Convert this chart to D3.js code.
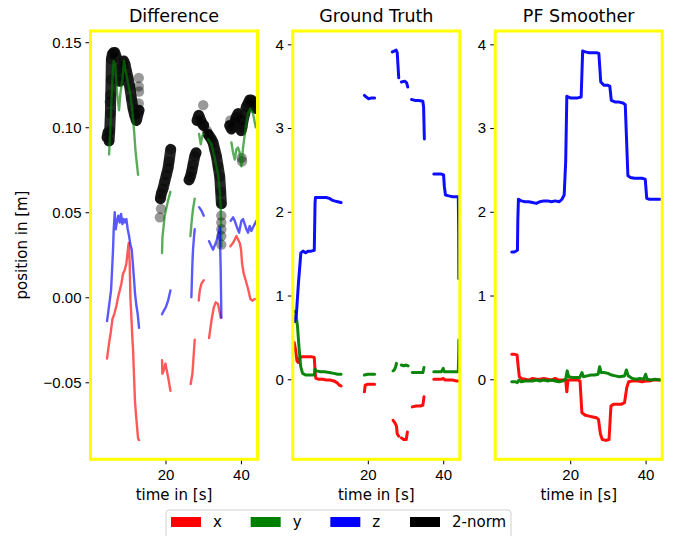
<!DOCTYPE html>
<html>
<head>
<meta charset="utf-8">
<script src="https://cdn.jsdelivr.net/npm/d3@7"></script>
<style>
body { margin: 0; background: #fff; }
svg { font-family: "DejaVu Sans", sans-serif; }
.tick text { font-size: 15px; fill: #000; }
.tick line { stroke: #000; }
</style>
</head>
<body>
<svg id="chart" width="677" height="536"></svg>
<script>
// ---- data: [time in s, position in m], null = gap ----

// Difference panel
var diffX = [[4.49,-0.036],[5.02,-0.027],[5.46,-0.021],[5.91,-0.013],[6.53,-0.009],[6.97,-0.005],[7.41,0.000],[7.85,0.004],[8.29,0.008],[8.74,0.014],[9.18,0.016],[9.62,0.020],[10.06,0.029],[10.24,0.032],[10.50,0.020],[10.68,0.000],[10.95,-0.012],[11.21,-0.024],[11.39,-0.031],[11.66,-0.047],[11.92,-0.062],[12.28,-0.072],[12.72,-0.083],[12.98,-0.084], null,
    [19.08,-0.037],[19.17,-0.045],[19.52,-0.043],[19.97,-0.039],[20.41,-0.044],[20.85,-0.049],[21.30,-0.055], null,
    [26.68,-0.051],[27.13,-0.045],[27.75,-0.025], null,
    [28.81,-0.002],[29.08,0.004],[29.52,0.008],[30.14,0.010], null,
    [31.55,-0.024],[32.17,-0.014],[32.79,-0.006],[33.32,-0.003],[33.94,-0.004],[34.38,-0.009],[34.64,-0.012], null,
    [37.21,0.030],[37.92,0.032],[38.36,0.034],[38.80,0.036],[39.24,0.034],[39.68,0.032],[40.04,0.028],[40.30,0.020],[40.74,0.014],[41.27,0.010],[41.89,0.005],[42.51,-0.001],[43.04,-0.002],[43.66,-0.001]];

var diffY = [[5.02,0.084],[5.38,0.100],[5.91,0.128],[6.26,0.139],[6.70,0.136],[7.15,0.120],[7.68,0.110],[8.03,0.120],[8.56,0.128],[9.00,0.139],[9.44,0.133],[10.06,0.126],[10.68,0.119],[11.21,0.109],[11.66,0.098],[12.01,0.087],[12.28,0.081],[12.72,0.072], null,
    [19.08,0.026],[19.17,0.035],[19.79,0.048],[20.68,0.057],[21.30,0.062], null,
    [26.60,0.036],[26.95,0.045],[27.30,0.052],[27.75,0.058], null,
    [28.90,0.096],[29.34,0.090],[29.78,0.095],[30.14,0.096], null,
    [31.28,0.093],[32.17,0.090],[33.05,0.082],[33.94,0.072],[34.38,0.063],[34.64,0.053],[34.82,0.030], null,
    [37.47,0.091],[37.92,0.085],[38.36,0.081],[38.80,0.087],[39.24,0.088],[39.68,0.085],[40.13,0.077],[40.57,0.088],[41.27,0.100],[41.89,0.108],[42.51,0.111],[43.21,0.108],[43.92,0.100]];

var diffZ = [[4.49,-0.014],[4.85,-0.008],[5.20,-0.002],[5.55,0.004],[5.82,0.016],[6.08,0.028],[6.26,0.040],[6.53,0.050],[6.79,0.040],[7.15,0.045],[7.50,0.048],[7.85,0.044],[8.21,0.049],[8.56,0.043],[8.91,0.046],[9.27,0.044],[9.62,0.046],[9.97,0.040],[10.33,0.036],[10.68,0.031],[11.03,0.028],[11.39,0.018],[11.66,0.010],[11.92,0.002],[12.28,-0.005],[12.63,-0.010],[12.98,-0.018], null,
    [19.08,-0.010],[19.52,-0.008],[20.06,-0.006],[20.68,-0.002],[21.30,0.004], null,
    [26.86,0.000],[27.13,0.020],[27.30,0.028],[27.57,0.036],[27.75,0.040], null,
    [28.90,0.053],[29.52,0.051],[30.14,0.048], null,
    [31.55,0.033],[32.61,0.028],[33.50,0.033],[33.94,0.036],[34.38,0.041],[34.64,0.016],[34.82,-0.012], null,
    [37.30,0.045],[37.92,0.047],[38.36,0.045],[38.98,0.041],[39.51,0.038],[40.13,0.045],[40.57,0.046],[41.01,0.043],[41.45,0.040],[41.89,0.038],[42.33,0.042],[42.77,0.039],[43.21,0.041],[43.66,0.043],[44.10,0.045]];

var diffNorm = [[4.49,0.094],[4.76,0.097],[5.02,0.092],[5.20,0.098],[5.38,0.108],[5.55,0.128],[5.64,0.140],[5.91,0.143],[6.26,0.144],[6.53,0.144],[6.97,0.141],[7.41,0.134],[7.85,0.127],[8.21,0.130],[8.56,0.136],[8.91,0.139],[9.27,0.137],[9.62,0.133],[10.06,0.129],[10.50,0.124],[10.95,0.117],[11.39,0.111],[11.83,0.107],[12.28,0.104],[12.72,0.108],[12.98,0.110], null,
    [18.64,0.058],[18.90,0.061],[19.35,0.064],[19.79,0.068],[20.23,0.072],[20.68,0.076],[20.94,0.080],[21.38,0.087], null,
    [26.24,0.069],[26.60,0.071],[26.95,0.074],[27.30,0.078],[27.75,0.083],[28.10,0.085], null,
    [28.37,0.104],[28.81,0.107],[29.34,0.104],[29.78,0.102],[30.14,0.101], null,
    [31.28,0.096],[31.55,0.095],[32.17,0.093],[32.61,0.091],[33.05,0.087],[33.50,0.083],[33.94,0.077],[34.38,0.071],[34.64,0.062],[34.82,0.055], null,
    [37.03,0.101],[37.47,0.099],[37.92,0.100],[38.36,0.103],[38.80,0.106],[39.24,0.108],[39.68,0.104],[40.04,0.098],[40.30,0.100],[40.57,0.104],[41.01,0.108],[41.45,0.112],[41.89,0.114],[42.33,0.116],[42.77,0.116],[43.21,0.115],[43.66,0.113],[44.10,0.111]];

var diffNormStray = [[5.3,0.119],[5.2,0.115],[12.9,0.129],[12.9,0.124],[12.98,0.121],[12.9,0.114],[18.5,0.047],[18.8,0.052],[30.0,0.113],[31.0,0.098],[34.8,0.048],[34.8,0.044],[34.8,0.040],[34.8,0.036],[34.8,0.031],[37.2,0.104],[40.2,0.082],[40.3,0.080]];

// Ground Truth panel
var gtX = [[0.45,0.44],[0.8,0.36],[1.2,0.22],[1.5,0.20],[1.9,0.25],[2.4,0.27],[3.0,0.27],[4.0,0.27],[5.0,0.27],[5.8,0.26],[6.0,0.10],[6.2,0.01],[7.0,0.0],[8.0,0.0],[9.0,-0.01],[10.0,-0.01],[11.0,-0.02],[11.8,-0.04],[12.4,-0.07],[12.9,-0.08], null,
    [19.1,-0.15],[19.3,-0.07],[20.0,-0.06],[21.0,-0.06],[21.8,-0.06], null,
    [26.7,-0.49],[27.2,-0.52],[27.6,-0.56],[27.8,-0.65],[28.2,-0.68], null,
    [28.9,-0.70],[29.5,-0.72],[30.2,-0.72],[30.5,-0.63], null,
    [31.8,-0.33],[32.8,-0.32],[33.8,-0.32],[34.6,-0.31],[34.9,-0.21], null,
    [37.5,0.0],[38.5,0.0],[39.5,0.0],[40.0,0.01],[40.5,-0.01],[41.5,-0.01],[42.5,-0.01],[43.5,-0.02],[44.0,-0.02]];

var gtY = [[0.45,0.81],[0.9,0.80],[1.35,0.63],[1.8,0.35],[2.2,0.15],[2.7,0.07],[3.5,0.05],[4.5,0.05],[5.8,0.05],[6.0,0.12],[6.3,0.10],[7.5,0.09],[8.5,0.09],[9.8,0.08],[11.0,0.07],[12.0,0.06],[12.9,0.06], null,
    [19.1,0.05],[20.0,0.06],[21.0,0.06],[21.8,0.06], null,
    [26.7,0.10],[27.0,0.11],[27.4,0.15],[27.6,0.19], null,
    [28.9,0.17],[29.5,0.16],[30.0,0.17],[30.7,0.16], null,
    [31.8,0.08],[32.8,0.08],[33.8,0.08],[34.6,0.08],[34.9,0.14], null,
    [37.5,0.09],[38.5,0.09],[39.5,0.09],[40.0,0.13],[40.3,0.09],[41.5,0.09],[42.5,0.09],[43.5,0.09],[44.0,0.09],[44.1,0.30],[44.15,0.47]];

var gtZ = [[0.64,0.69],[1.07,0.79],[1.6,1.15],[2.24,1.51],[2.8,1.53],[3.5,1.51],[4.2,1.53],[5.0,1.53],[5.8,1.54],[6.0,2.10],[6.1,2.17],[7.0,2.17],[8.0,2.17],[9.0,2.17],[9.8,2.16],[10.5,2.14],[11.1,2.13],[12.0,2.12],[12.9,2.11], null,
    [19.1,3.39],[19.6,3.37],[20.2,3.35],[21.0,3.36],[21.8,3.36], null,
    [26.5,3.91],[27.0,3.92],[27.5,3.93],[27.8,3.90],[28.0,3.75],[28.2,3.60], null,
    [28.9,3.55],[29.8,3.56],[30.3,3.54],[30.6,3.49], null,
    [31.6,3.34],[32.5,3.33],[33.5,3.33],[34.6,3.32],[34.8,3.25],[34.9,3.05],[35.0,2.87], null,
    [37.5,2.45],[38.5,2.45],[39.5,2.45],[40.1,2.44],[40.3,2.30],[40.6,2.20],[41.5,2.19],[42.5,2.18],[43.5,2.18],[44.0,2.18],[44.1,1.80],[44.15,1.2]];

// PF Smoother panel
var pfX = [[4.5,0.30],[5.0,0.30],[5.9,0.29],[6.2,0.15],[6.5,0.03],[7.0,0.01],[8.0,0.0],[9.0,-0.01],[10.0,0.01],[11.0,0.0],[12.0,0.0],[13.0,0.01],[14.0,0.0],[15.0,-0.01],[16.0,0.01],[17.0,-0.01],[18.0,-0.01],[18.8,-0.01],[19.1,-0.15],[19.4,-0.01],[20.0,-0.01],[21.0,-0.01],[22.0,-0.01],[22.6,-0.02],[23.1,-0.40],[24.0,-0.43],[25.0,-0.44],[26.0,-0.45],[27.0,-0.46],[27.5,-0.48],[28.0,-0.65],[28.5,-0.72],[29.5,-0.73],[30.3,-0.72],[30.8,-0.32],[31.5,-0.30],[32.5,-0.30],[33.5,-0.30],[34.4,-0.28],[35.0,-0.10],[35.5,-0.03],[36.5,-0.02],[38.0,-0.02],[39.0,-0.03],[40.0,-0.02],[41.0,-0.02],[42.0,-0.01],[43.0,-0.01],[43.8,-0.01]];

var pfY = [[4.5,-0.03],[5.5,-0.03],[6.0,-0.04],[6.4,-0.01],[7.0,-0.03],[8.0,-0.02],[9.0,-0.02],[10.0,-0.02],[11.0,-0.01],[12.0,-0.02],[13.0,-0.01],[14.0,-0.02],[15.0,-0.01],[16.0,-0.02],[17.0,-0.03],[18.0,-0.02],[18.8,0.0],[19.2,0.10],[19.6,0.03],[20.5,0.02],[21.5,0.02],[22.5,0.02],[23.1,0.08],[23.5,0.03],[24.5,0.04],[25.5,0.05],[26.5,0.05],[27.4,0.06],[27.8,0.15],[28.2,0.08],[29.0,0.08],[30.0,0.07],[31.0,0.05],[32.0,0.04],[33.0,0.03],[34.4,0.04],[34.9,0.11],[35.4,0.04],[36.5,0.01],[37.5,0.0],[38.5,0.01],[39.5,0.0],[40.0,0.06],[40.4,0.0],[41.5,-0.01],[42.5,0.0],[43.8,-0.01]];

var pfZ = [[4.5,1.52],[5.2,1.52],[6.0,1.54],[6.1,1.9],[6.26,2.15],[7.0,2.13],[8.0,2.12],[9.0,2.12],[10.0,2.11],[11.0,2.10],[12.0,2.12],[13.0,2.13],[14.0,2.13],[15.0,2.12],[16.0,2.13],[17.1,2.12],[17.8,2.15],[18.4,2.20],[18.8,2.6],[19.1,3.38],[20.0,3.36],[21.0,3.36],[22.0,3.36],[22.9,3.37],[23.3,3.92],[24.0,3.91],[25.0,3.90],[26.0,3.90],[27.0,3.90],[27.6,3.89],[28.1,3.55],[29.0,3.51],[30.0,3.51],[30.5,3.50],[30.9,3.33],[32.0,3.31],[33.0,3.31],[34.0,3.30],[34.6,3.28],[35.3,2.43],[36.0,2.41],[37.0,2.40],[38.0,2.40],[39.0,2.40],[39.9,2.39],[40.3,2.16],[41.0,2.15],[42.0,2.15],[43.0,2.15],[43.8,2.15]];

// ticks and labels
var timeTicks = [20, 40];
var diffTicks = [-0.05, 0.00, 0.05, 0.10, 0.15];
var posTicks = [0, 1, 2, 3, 4];
var legendLabels = ['x', 'y', 'z', '2-norm'];
var legendColors = ['#ff0000', '#008000', '#0000ff', '#000000'];

// ---- layout ----
var svg = d3.select('#chart');
var top0 = 31, bottom0 = 459.3; // frame
var pw = 167;                   // panel width
var timeDomain = [0.1, 44.4];

var line = d3.line()
    .defined(function(d) { return d != null; })
    .x(function(d) { return d[0]; })
    .y(function(d) { return d[1]; });

function drawPanel(cfg, idx)
{
    var x = d3.scaleLinear().domain(timeDomain).range([cfg.left, cfg.left + pw]);
    var y = d3.scaleLinear().domain(cfg.yDomain).range([bottom0, top0]);

    var clipId = 'clip' + idx;
    svg.append('clipPath').attr('id', clipId)
        .append('rect')
        .attr('x', cfg.left).attr('y', top0)
        .attr('width', pw).attr('height', bottom0 - top0);

    var g = svg.append('g').attr('clip-path', 'url(#' + clipId + ')');

    function proj(s) {
        return s.map(function(d) { return d == null ? null : [x(d[0]), y(d[1])]; });
    }

    // 2-norm blob (difference only), drawn underneath
    if (cfg.norm) {
        g.append('path')
            .attr('d', line(proj(cfg.norm)))
            .attr('fill', 'none')
            .attr('stroke', '#000')
            .attr('stroke-opacity', 0.85)
            .attr('stroke-width', 11)
            .attr('stroke-linecap', 'round')
            .attr('stroke-linejoin', 'round');
        g.selectAll('.normDot')
            .data(cfg.norm.filter(function(d) { return d != null; }).concat(cfg.stray))
            .enter().append('circle')
            .attr('cx', function(d) { return x(d[0]); })
            .attr('cy', function(d) { return y(d[1]); })
            .attr('r', 5.2)
            .attr('fill', '#000')
            .attr('fill-opacity', 0.4);
    }

    cfg.series.forEach(function(s) {
        g.append('path')
            .attr('d', line(proj(s.data)))
            .attr('fill', 'none')
            .attr('stroke', s.color)
            .attr('stroke-opacity', cfg.alpha)
            .attr('stroke-width', cfg.lw)
            .attr('stroke-linecap', 'round')
            .attr('stroke-linejoin', 'round');
    });

    // axes
    var xa = svg.append('g')
        .attr('transform', 'translate(0,' + bottom0 + ')')
        .call(d3.axisBottom(x).tickValues(timeTicks).tickSize(5).tickPadding(5));
    xa.select('.domain').remove();

    var ya = svg.append('g')
        .attr('transform', 'translate(' + cfg.left + ',0)')
        .call(d3.axisLeft(y).tickValues(cfg.yTicks).tickFormat(cfg.yFormat).tickSize(5).tickPadding(4));
    ya.select('.domain').remove();

    // yellow frame
    svg.append('rect')
        .attr('x', cfg.left).attr('y', top0)
        .attr('width', pw).attr('height', bottom0 - top0)
        .attr('fill', 'none')
        .attr('stroke', '#ffff00')
        .attr('stroke-width', 3);

    svg.append('text')
        .attr('x', cfg.left + pw / 2).attr('y', 22)
        .attr('text-anchor', 'middle')
        .style('font-size', '17.5px')
        .text(cfg.title);

    svg.append('text')
        .attr('x', cfg.left + pw / 2).attr('y', 500)
        .attr('text-anchor', 'middle')
        .style('font-size', '15px')
        .text('time in [s]');
}

var fmtDiff = function(d) { return d3.format('.2f')(d).replace('-', '\u2212'); };
var fmtPos = d3.format('d');

var panels = [
    { left: 90.5, title: 'Difference', yDomain: [-0.0953, 0.1566], yTicks: diffTicks, yFormat: fmtDiff,
      series: [{data: diffX, color: '#ff0000'}, {data: diffY, color: '#008000'}, {data: diffZ, color: '#0000ff'}],
      norm: diffNorm, stray: diffNormStray, lw: 2.4, alpha: 0.65 },
    { left: 292.8, title: 'Ground Truth', yDomain: [-0.956, 4.159], yTicks: posTicks, yFormat: fmtPos,
      series: [{data: gtX, color: '#ff0000'}, {data: gtY, color: '#008000'}, {data: gtZ, color: '#0000ff'}],
      lw: 3, alpha: 0.95 },
    { left: 495.2, title: 'PF Smoother', yDomain: [-0.956, 4.159], yTicks: posTicks, yFormat: fmtPos,
      series: [{data: pfX, color: '#ff0000'}, {data: pfY, color: '#008000'}, {data: pfZ, color: '#0000ff'}],
      lw: 3, alpha: 0.95 }
];

panels.forEach(drawPanel);

svg.append('text')
    .attr('transform', 'translate(27,245) rotate(-90)')
    .attr('text-anchor', 'middle')
    .style('font-size', '15px')
    .text('position in [m]');

// legend
var lg = svg.append('g');
lg.append('rect')
    .attr('x', 166).attr('y', 510)
    .attr('width', 345).attr('height', 34)
    .attr('rx', 3)
    .attr('fill', '#fff')
    .attr('stroke', '#d0d0d0');

var legendX = d3.scalePoint().domain(legendLabels).range([171, 410]);
var item = lg.selectAll('.item').data(legendLabels).enter().append('g');
item.append('rect')
    .attr('x', function(d) { return legendX(d); })
    .attr('y', 517)
    .attr('width', 30).attr('height', 10)
    .attr('fill', function(d, i) { return legendColors[i]; });
item.append('text')
    .attr('x', function(d) { return legendX(d) + 42; })
    .attr('y', 527)
    .style('font-size', '15px')
    .text(function(d) { return d; });
</script>
</body>
</html>
